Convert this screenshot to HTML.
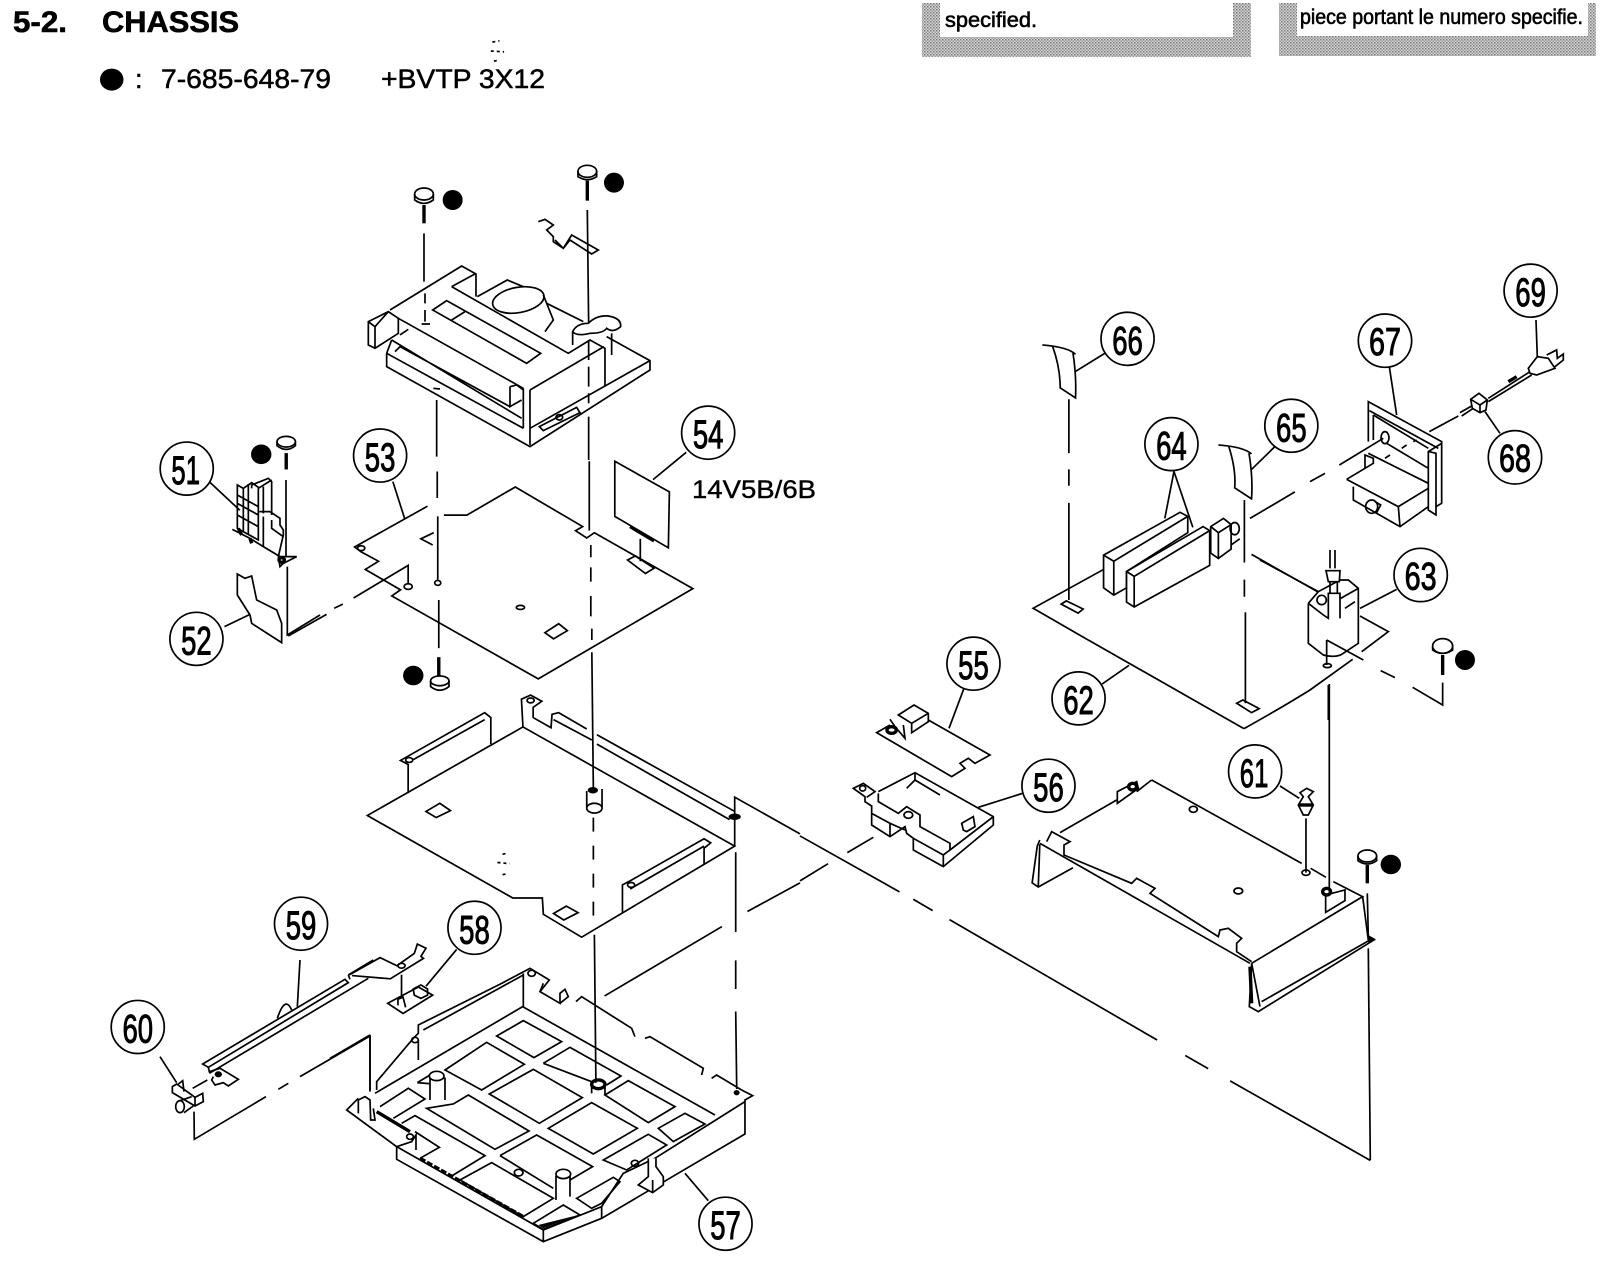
<!DOCTYPE html>
<html lang="en"><head><meta charset="utf-8"><title>5-2. Chassis</title>
<style>
html,body{margin:0;padding:0;background:#fff;width:1600px;height:1280px;overflow:hidden}
svg{display:block}
text{font-family:"Liberation Sans",sans-serif;fill:#000}
.d path,.d ellipse{fill:none;stroke:#000;stroke-width:1.7;vector-effect:non-scaling-stroke;stroke-linejoin:miter}
.d .th{stroke-width:3.4}
.d .w{fill:#fff}
.d .b{fill:#000;stroke:none}
.d .c{fill:#fff;stroke-width:1.7}
.d text{font-size:97px;text-anchor:middle;stroke:#000;stroke-width:2.4}
</style></head><body>
<svg width="1600" height="1280" viewBox="0 0 1600 1280" xmlns="http://www.w3.org/2000/svg">
<defs><pattern id="ht" width="3" height="3" patternUnits="userSpaceOnUse"><rect width="3" height="3" fill="#d8d8d8"/><rect width="1.5" height="1.5" fill="#777"/><rect x="1.5" y="1.5" width="1.5" height="1.5" fill="#999"/></pattern></defs>
<rect width="1600" height="1280" fill="#fff"/>
<path d="M922 3H940V37H1233V3H1251V57H922Z" fill="url(#ht)"/>
<path d="M1279 3H1297V36H1588V3H1596V56H1279Z" fill="url(#ht)"/>
<text x="945" y="27" font-size="21" textLength="92" lengthAdjust="spacingAndGlyphs" stroke="#000" stroke-width=".6">specified.</text>
<text x="1300" y="24" font-size="21" textLength="283" lengthAdjust="spacingAndGlyphs" stroke="#000" stroke-width=".6">piece portant le numero specifie.</text>
<text x="13" y="32" font-size="30" font-weight="700" textLength="54" lengthAdjust="spacingAndGlyphs" stroke="#000" stroke-width=".6">5-2.</text>
<text x="102" y="32" font-size="30" font-weight="700" textLength="137" lengthAdjust="spacingAndGlyphs" stroke="#000" stroke-width=".6">CHASSIS</text>
<text x="135" y="88" font-size="27" stroke="#000" stroke-width=".5">:</text>
<text x="161" y="88" font-size="27" textLength="170" lengthAdjust="spacingAndGlyphs" stroke="#000" stroke-width=".5">7-685-648-79</text>
<text x="381" y="88" font-size="27" textLength="164" lengthAdjust="spacingAndGlyphs" stroke="#000" stroke-width=".5">+BVTP 3X12</text>
<text x="692" y="498" font-size="25" textLength="124" lengthAdjust="spacingAndGlyphs" stroke="#000" stroke-width=".4">14V5B/6B</text>

<!-- top-left quadrant -->
<g class="d" transform="scale(.5102 .4082)">
<ellipse class="b" cx="219" cy="195" rx="23" ry="27"/>
<path d="M965 103l14 -3M962 125l26 2M968 150l10 -3" stroke-dasharray="3 3"/>
<ellipse cx="561" cy="1082" rx="18" ry="13"/><path d="M543 1082V1092Q561 1110 579 1092V1082"/><path class="th" d="M561 1110V1150"/><ellipse class="b" cx="512" cy="1113" rx="20" ry="24"/>
<!-- vertical dashes -->
<path d="M857 1155V1220M858 1265V1420M860 1470V1568"/>
<path d="M1155 1130V1300M1158 1335V1365M1158 1390V1425M1158 1460V1510M1160 1540V1568"/>
<!-- board 53 -->
<path d="M838 1240L695 1340L708 1352L742 1375L716 1395L785 1445L768 1460L1055 1663L1358 1442L1165 1305L1150 1318L1128 1300L1142 1290L1010 1193L915 1262H870"/>
<path d="M850 1305L825 1320L848 1335"/>
<ellipse cx="708" cy="1343" rx="7" ry="6"/><ellipse cx="800" cy="1437" rx="8" ry="7"/><ellipse cx="858" cy="1428" rx="6" ry="6"/><ellipse cx="1020" cy="1488" rx="8" ry="5"/>
<path d="M1068 1550L1095 1528L1112 1545L1085 1565Z"/>
<path d="M1230 1372L1245 1362L1282 1392L1265 1405ZM1255 1320V1375"/>
<path d="M565 1558L640 1505M655 1490L672 1480M693 1465L800 1385V1430"/>
<!-- 54 -->
<path d="M1205 1130L1312 1205L1310 1342L1205 1265Z"/><path class="th" d="M1235 1290L1282 1325"/><path d="M1280 1175L1345 1108"/>
<path d="M410 1180L470 1250"/>
<path d="M440 1535L490 1505"/>
<path d="M770 1180L793 1270"/>
<ellipse class="c" cx="366" cy="1148" rx="52" ry="65"/><text x="364" y="1186" textLength="56" lengthAdjust="spacingAndGlyphs">51</text>
<ellipse class="c" cx="745" cy="1116" rx="52" ry="65"/><text x="745" y="1154" textLength="60" lengthAdjust="spacingAndGlyphs">53</text>
<ellipse class="c" cx="1388" cy="1060" rx="52" ry="65"/><text x="1388" y="1098" textLength="60" lengthAdjust="spacingAndGlyphs">54</text>
<ellipse class="c" cx="385" cy="1565" rx="52" ry="65"/><text x="385" y="1603" textLength="60" lengthAdjust="spacingAndGlyphs">52</text>
</g>

<!-- 51 / 52 detail -->
<g class="d" transform="translate(200 460) scale(.3333)">
<path d="M112 75L130 85L155 68L175 82V240L112 205ZM145 72V225M130 85V215M112 105L175 140M112 130L175 165M112 165L175 200"/>
<path d="M155 85V75L205 55L215 65V165M175 85L215 60M190 80V160"/>
<path d="M178 155H210L240 175V195L250 210V225L235 290M190 170V260M215 180V205L250 230"/>
<path d="M97 208L150 235L190 260L240 290H290L250 310L240 320L235 290"/>
<path class="th" d="M115 205L125 225M150 235L155 250"/><ellipse class="th" cx="245" cy="300" rx="8" ry="7"/>
<path d="M258 60V290M262 320V525L360 465"/>
<path d="M112 342L135 355L155 348L170 420L230 450L245 490V548L155 490L150 465L112 405Z"/>
</g>

<!-- top assembly detail -->
<g class="d" transform="translate(350 170) scale(.3333)">
<path d="M55 455L115 425L145 445V490L75 535L55 525ZM75 535V470L115 425M55 455L75 470"/>
<path d="M120 420L335 288L378 312V380M305 350L378 310M305 350L655 550L720 510L765 535V650"/>
<path d="M145 445L520 655M480 650L500 645L520 660M480 650V710L515 690M540 660L762 530M540 660V825M520 655V775"/>
<path d="M110 550V590L540 830L900 600V572L770 500M540 775L900 572M110 550L125 510M125 510L515 745M135 545L150 530L480 710M110 550L520 775"/>
<path d="M248 420L290 392L572 550L530 580ZM305 450L345 425"/>
<ellipse class="w" cx="505" cy="390" rx="78" ry="38" transform="rotate(-10 505 390)"/>
<path d="M580 375L610 450L585 485M382 380L472 330L520 350M590 400L700 455"/>
<path class="w" d="M668 485Q680 460 715 460Q740 435 775 438Q815 445 812 470Q790 490 770 475Q760 490 720 490Q680 500 668 485Z"/><path d="M668 485V525M785 490V555"/>
<path d="M568 770L680 712L690 728L580 782Z"/><ellipse cx="628" cy="742" rx="10" ry="8"/>
<ellipse cx="222" cy="72" rx="28" ry="18"/><path d="M194 72V90Q222 110 250 90V72"/><path class="th" d="M222 105V160"/><ellipse class="b" cx="308" cy="90" rx="30" ry="30"/>
<path d="M222 190V335M225 370V400M225 420V455M215 462L240 462M150 495L175 478M260 690V860M250 655l20 2"/>
<ellipse cx="712" cy="4" rx="28" ry="18"/><path d="M684 4V20Q712 38 740 20V4"/><path class="th" d="M712 32V92"/><ellipse class="b" cx="792" cy="38" rx="30" ry="30"/>
<path d="M712 120L716 460M716 510V570M716 590V650M716 670V700M716 740V870"/>
<path d="M565 155L585 148L610 165L590 180L610 200V215L640 235L665 195L745 240L725 252L660 210L640 235L615 210"/>
</g>

<!-- top-right quadrant -->
<g class="d" transform="translate(800 0) scale(.5102 .4082)">
<path d="M475 845Q525 850 540 868M495 848Q510 900 510 950L540 975Q542 920 535 865M540 910L598 865"/>
<path d="M820 1090Q870 1095 885 1112M840 1092Q855 1150 852 1195L885 1222Q888 1170 880 1110M885 1150L930 1095"/>
<path d="M527 978V1110M527 1150V1190M527 1232V1470M871 1225V1378M871 1420V1462M873 1500V1568"/>
<path d="M882 1270L970 1205"/>
<path d="M595 1395L457 1490L565 1568M512 1480L522 1472L555 1492L545 1502ZM885 1358L1015 1450"/>
<path d="M733 1155L715 1270M733 1155L770 1292"/>
<path d="M595 1360L745 1255L760 1265V1305L640 1400V1440L615 1458L595 1440ZM595 1360L615 1375L760 1265M615 1375V1458"/>
<path class="w" d="M640 1400L790 1290L803 1300V1385L655 1487L640 1475Z"/><path d="M640 1400L655 1412L803 1300M655 1412V1487"/>
<path d="M805 1290L830 1270L845 1285V1345L820 1368L805 1355ZM805 1290L820 1305L845 1285M820 1305V1368"/><ellipse cx="852" cy="1295" rx="9" ry="15"/><path d="M845 1335L862 1320"/>
<ellipse class="c" cx="642" cy="830" rx="52" ry="65"/><text x="642" y="868" textLength="60" lengthAdjust="spacingAndGlyphs">66</text>
<ellipse class="c" cx="963" cy="1043" rx="52" ry="65"/><text x="963" y="1081" textLength="60" lengthAdjust="spacingAndGlyphs">65</text>
<ellipse class="c" cx="728" cy="1088" rx="52" ry="65"/><text x="728" y="1126" textLength="60" lengthAdjust="spacingAndGlyphs">64</text>
</g>

<!-- 67/68/69 detail -->
<g class="d" transform="translate(1300 340) scale(.3333)">
<path d="M205 305V185L425 305V490L408 500M388 335L408 340V525L385 510V335L425 310"/>
<path d="M208 212L415 325M220 225L385 325M220 225V300M205 340L385 430M260 310L385 385"/>
<ellipse cx="255" cy="293" rx="12" ry="18"/>
<path class="w" d="M140 418L220 370V355L195 345V385M140 418L295 500L385 445"/>
<path d="M160 440V480L300 560L385 500M295 500L300 560"/>
<ellipse cx="215" cy="500" rx="18" ry="20"/><path d="M225 485L242 495L230 518"/>
<path d="M30 425L75 400M118 375L250 295M255 355L270 345M305 325L320 315M340 305L350 300M388 275L475 228"/>
<path d="M485 228L520 205M480 218L515 198"/>
<path d="M268 80L290 225M555 215L600 280"/>
<path class="w" d="M512 178L537 160L562 180L558 210L540 218L517 205Z"/><path d="M512 178L540 195L562 180M540 195V218"/>
<path d="M565 175L690 95M565 185L695 105"/><path class="th" d="M625 125L650 110"/>
<path class="w" d="M685 85L712 50L745 55L765 85L710 105L690 100Z"/><path d="M740 45L770 30L772 55L790 42V60L765 80M708 -60L712 50"/>
<ellipse class="c" cx="645" cy="352" rx="80" ry="80"/><text x="645" y="395" style="font-size:118px;stroke-width:3" textLength="96" lengthAdjust="spacingAndGlyphs">68</text>
<ellipse class="c" cx="255" cy="2" rx="80" ry="80"/><text x="255" y="45" style="font-size:118px;stroke-width:3" textLength="96" lengthAdjust="spacingAndGlyphs">67</text>
</g>
<g class="d" transform="translate(800 0) scale(.5102 .4082)">
<ellipse class="c" cx="1432" cy="712" rx="52" ry="65"/><text x="1432" y="750" textLength="60" lengthAdjust="spacingAndGlyphs">69</text>
</g>

<!-- 63 detail -->
<g class="d" transform="translate(1260 540) scale(.3333)">
<path d="M0 60L175 155M145 190L175 155L240 120H265L295 145V310L250 340Q230 355 190 345L145 310V190M145 190L190 225L205 235V160H240V235M242 175L295 145"/>
<path d="M210 30V85M225 30V85"/>
<path class="w" d="M198 92H240L238 125H205Z"/><path d="M210 125V160M232 125V160M255 205L285 185"/>
<ellipse cx="185" cy="180" rx="14" ry="14"/>
<path d="M300 205L410 148M300 228L385 275L305 335M278 358L150 450Q70 500 -48 566"/>
<path d="M200 300V375M200 300L310 360M362 392L405 413M458 442L548 495V428M205 435V540"/><ellipse cx="202" cy="377" rx="12" ry="6"/>
<ellipse cx="548" cy="318" rx="30" ry="22"/><path d="M518 318V330Q548 350 578 330V318"/><path class="th" d="M548 345V405"/><ellipse class="b" cx="615" cy="360" rx="30" ry="30"/>
<ellipse class="c" cx="482" cy="105" rx="80" ry="80"/><text x="482" y="148" style="font-size:118px;stroke-width:3" textLength="96" lengthAdjust="spacingAndGlyphs">63</text>
</g>

<!-- bottom-left quadrant -->
<g class="d" transform="translate(0 640) scale(.5102 .4082)">
<path class="th" d="M860 42V90"/><ellipse cx="862" cy="100" rx="18" ry="12"/><path d="M844 100V114Q862 132 880 114V100"/><ellipse class="b" cx="810" cy="87" rx="20" ry="24"/>
<path d="M860 0V20"/>
<!-- middle plate -->
<path d="M720 430L1025 213L1440 505L1140 728L1065 672L1063 632H1005L720 430Z"/>
<path d="M800 375V305L785 295L950 178L962 190V255M810 293L950 195"/><ellipse cx="802" cy="294" rx="7" ry="6"/>
<path d="M1025 213L1022 145L1040 135L1062 150L1045 165V190L1080 215L1082 182L1095 178L1150 218M1170 232L1440 420M1085 195L1160 245M1170 255L1430 440"/><ellipse cx="1040" cy="148" rx="7" ry="6"/>
<path d="M835 420L862 400L883 418L855 435ZM1085 670L1110 652L1133 668L1105 686Z"/>
<path d="M1220 668V600L1235 590L1380 487L1393 497L1380 510V550M1235 610L1380 505"/><ellipse cx="1237" cy="600" rx="7" ry="6"/>
<path d="M1150 370V410M1180 365V410"/><ellipse cx="1165" cy="412" rx="15" ry="12"/><ellipse class="b" cx="1162" cy="368" rx="10" ry="8"/>
<path d="M1160 30L1163 365M1165 722L1168 1085"/>
<path d="M1163 435V680" stroke-dasharray="14 14"/>
<path d="M1440 505V385L1568 475M1442 520V715M1442 785V855M1442 910L1444 1100"/>
<ellipse class="b" cx="1440" cy="433" rx="12" ry="8"/>
<path d="M1568 595L1465 665M1415 702L1185 872"/>
<!-- 59 top plate -->
<path d="M685 820L745 778L778 798L812 768L818 745L835 755L825 775L830 780L765 830L690 822"/><ellipse cx="787" cy="798" rx="7" ry="6"/><path d="M787 820V870"/>
<!-- 58 -->
<path d="M895 758L835 848M760 890L820 850L848 870L790 915ZM810 855L825 845L838 855V870L825 878L812 870ZM780 895V880L790 875L795 900"/>
<path d="M985 525l10 -3M975 545l24 3M985 575l8 -2" stroke-dasharray="3 3"/>
<ellipse class="c" cx="590" cy="695" rx="52" ry="65"/><text x="590" y="733" textLength="60" lengthAdjust="spacingAndGlyphs">59</text>
<ellipse class="c" cx="930" cy="705" rx="52" ry="65"/><text x="930" y="743" textLength="60" lengthAdjust="spacingAndGlyphs">58</text>
<ellipse class="c" cx="270" cy="948" rx="52" ry="65"/><text x="270" y="986" textLength="60" lengthAdjust="spacingAndGlyphs">60</text>
<ellipse class="c" cx="1422" cy="1430" rx="52" ry="65"/><text x="1422" y="1468" textLength="60" lengthAdjust="spacingAndGlyphs">57</text>
</g>

<!-- 59/60 detail -->
<g class="d" transform="translate(160 960) scale(.3333)">
<path d="M128 312L555 58L565 68L145 322ZM148 340L625 55M565 45L640 0M565 45L570 58"/>
<path d="M145 322L148 335L180 325L235 358L205 378L190 368L165 375L155 360L160 350"/><ellipse class="th" cx="175" cy="343" rx="6" ry="4"/>
<path d="M352 175Q375 105 395 150M420 0L412 140"/>
<path d="M37 380L50 372L105 412L128 400L130 425L105 438L37 398ZM105 412V438M55 372L68 362L72 395"/>
<ellipse cx="60" cy="440" rx="13" ry="18"/><path d="M60 422L95 410M72 458L100 438"/>
<path d="M0 290L50 368M98 385L142 360M102 455L103 538L318 410M355 388L385 370M420 350L630 228V395"/>
</g>

<!-- tray 57 detail -->
<g class="d" transform="translate(330 950) scale(.3333)">
<path d="M85 445L50 480L200 590V628L640 875L815 805L1245 552V450L1268 437L1235 420M200 590L640 840V875"/>
<path d="M135 430L578 170L1155 495M640 840L815 770L880 670L975 625L1245 455"/>
<path d="M610 820L640 838L750 795L700 765Z"/><path class="b" d="M625 825L745 795L640 835Z"/>
<path d="M815 770V805"/>
<path d="M140 420V395L250 265L265 250V225L515 100L600 55L658 90L630 125L690 160V130L705 118L715 140L690 160M738 155L755 140L905 235L915 260M945 265L960 260L1120 355L1115 375M1145 385L1160 375L1235 420"/>
<path d="M280 240L580 75M580 70V170M265 270V330M630 125L640 100"/>
<ellipse cx="255" cy="270" rx="10" ry="8"/><ellipse cx="605" cy="70" rx="11" ry="9"/>
<path d="M500 258L580 212L695 275L612 323Z"/><path d="M345 360L470 277L583 343L455 420Z"/>
<path d="M640 340L720 292L873 378L830 405M785 395L640 340"/>
<path d="M478 432L610 358L757 443L628 520Z"/><path d="M825 435L895 392L1035 470L955 518Z"/><path d="M655 535L785 458L922 535L790 612Z"/>
<path d="M985 535L1065 490L1125 522L1030 575Z"/><path d="M820 630L955 553L1010 585L890 660Z"/>
<path d="M290 475L370 462L415 435L597 543L495 598Z"/>
<path d="M150 470L235 415L285 447L190 505"/><path d="M262 398L300 375M345 405L262 398"/>
<path d="M215 520L255 497L465 617L365 678M270 625L328 592L255 545"/>
<path d="M510 617L620 555L788 650L720 690M670 715L510 617"/>
<path d="M390 690L485 638L670 745L580 800Z"/><path d="M740 745L850 682L870 695L815 760L785 775Z"/>
<ellipse cx="566" cy="668" rx="13" ry="10"/>
<path class="w" d="M300 450V385H345V450"/><ellipse class="w" cx="320" cy="378" rx="22" ry="14"/>
<path class="w" d="M678 750V680H720V740"/><ellipse class="w" cx="700" cy="672" rx="22" ry="14"/>
<path d="M785 430V400M825 435V405"/><ellipse class="th" cx="805" cy="403" rx="20" ry="13"/>
<path d="M85 490V450L105 440L120 450L122 510L135 510L130 475"/><path d="M120 255V420M0 325L120 255"/>
<path class="th" d="M140 485L240 545"/><ellipse cx="240" cy="560" rx="10" ry="8"/>
<path d="M200 590L245 575L258 555V600"/>
<path class="th" d="M270 625L580 800" stroke-dasharray="6 2"/>
<path class="w" d="M955 625V680L925 705L968 728L1000 705V680L978 650V625"/><path d="M968 690V728"/><ellipse cx="915" cy="640" rx="11" ry="9"/>
<ellipse class="b" cx="1220" cy="428" rx="9" ry="8"/>
<path d="M1065 670L1135 752"/>
</g>

<!-- bottom-right quadrant -->
<g class="d" transform="translate(800 640) scale(.5102 .4082)">
<path d="M0 480L195 617M222 635L260 663M293 685L700 980M755 1018L800 1050M843 1080L1118 1275"/>
<path d="M55 548L0 590"/>
<!-- 62 board -->
<path d="M565 0L870 217M856 155L868 147L900 168L885 178ZM873 0V155M592 108L645 62"/>
<ellipse class="b" cx="1158" cy="550" rx="20" ry="24"/>
<path d="M470 490L465 505L455 595L467 605L535 558M470 500L467 605"/>
<ellipse class="c" cx="546" cy="143" rx="52" ry="65"/><text x="546" y="181" textLength="60" lengthAdjust="spacingAndGlyphs">62</text>
<ellipse class="c" cx="340" cy="58" rx="52" ry="65"/><text x="340" y="96" textLength="60" lengthAdjust="spacingAndGlyphs">55</text>
<ellipse class="c" cx="487" cy="357" rx="52" ry="65"/><text x="487" y="395" textLength="60" lengthAdjust="spacingAndGlyphs">56</text>
<ellipse class="c" cx="892" cy="322" rx="52" ry="65"/><text x="890" y="360" textLength="56" lengthAdjust="spacingAndGlyphs">61</text>
</g>

<!-- 55/56 detail -->
<g class="d" transform="translate(840 680) scale(.3333)">
<path d="M265 120L450 225L405 250L385 235L360 250L375 265L335 290L110 158L150 135M372 25L327 145"/>
<path class="w" d="M175 105L222 75L265 100V125L215 158V130L175 105Z"/><path d="M215 130L265 100"/>
<path d="M150 118L165 140L195 175L190 135"/><ellipse class="th" cx="155" cy="150" rx="14" ry="10"/>
<path d="M115 335L225 278L460 410V435L310 560L220 510V475L200 460L195 440L150 470L95 435V378L75 365V350L40 325L70 310L105 335L80 352"/>
<path d="M115 340V365L175 400L200 380L240 405V440L330 490V510L460 410M95 400L150 430L195 450M220 475L310 525V560M310 525L330 510"/>
<path d="M225 278V300L200 325M225 300L300 345M370 450L365 430L400 410L405 440L380 455Z"/>
<path d="M150 430V470"/><ellipse cx="205" cy="405" rx="13" ry="10"/><ellipse cx="68" cy="325" rx="9" ry="8"/>
<path d="M415 382L548 340M22 518L100 472"/>
</g>

<!-- right plate detail -->
<g class="d" transform="translate(1040 780) scale(.3333)">
<path d="M335 0L785 250M812 265L858 292M880 305L968 350L635 550M0 190L630 550M60 158L230 60M290 35L335 0"/>
<path d="M232 35L290 5L295 25L232 70Z"/><ellipse class="th" cx="278" cy="20" rx="12" ry="10"/>
<path d="M20 185L35 155L90 185L72 195V225L275 310L290 295L345 325L330 340L535 470L540 450L565 445L605 475L590 490V515L635 545"/>
<path d="M635 550L628 680L655 695L1005 478M635 550L660 680M665 665L990 480M968 350L985 480"/>
<path class="th" d="M630 560L635 670"/>
<ellipse cx="460" cy="88" rx="12" ry="9"/><ellipse cx="595" cy="333" rx="13" ry="9"/><ellipse cx="798" cy="278" rx="12" ry="8"/>
<path d="M780 38L800 25L820 35L805 50L820 75L805 105H790L775 75L790 50ZM720 18L778 55M798 115V278M868 -288V335"/>
<path class="th" d="M775 75H820"/>
<path class="w" d="M857 345L915 330V362L857 397Z"/><ellipse class="th" cx="860" cy="335" rx="12" ry="10"/>
<ellipse cx="982" cy="228" rx="28" ry="18"/><path d="M954 228V242Q982 262 1010 242V228"/><path class="th" d="M982 255V310"/>
<path d="M982 340L985 470M985 505L991 1140"/>
<path class="b" d="M985 465L1008 478L985 490Z"/>
</g>
</svg>
</body></html>
